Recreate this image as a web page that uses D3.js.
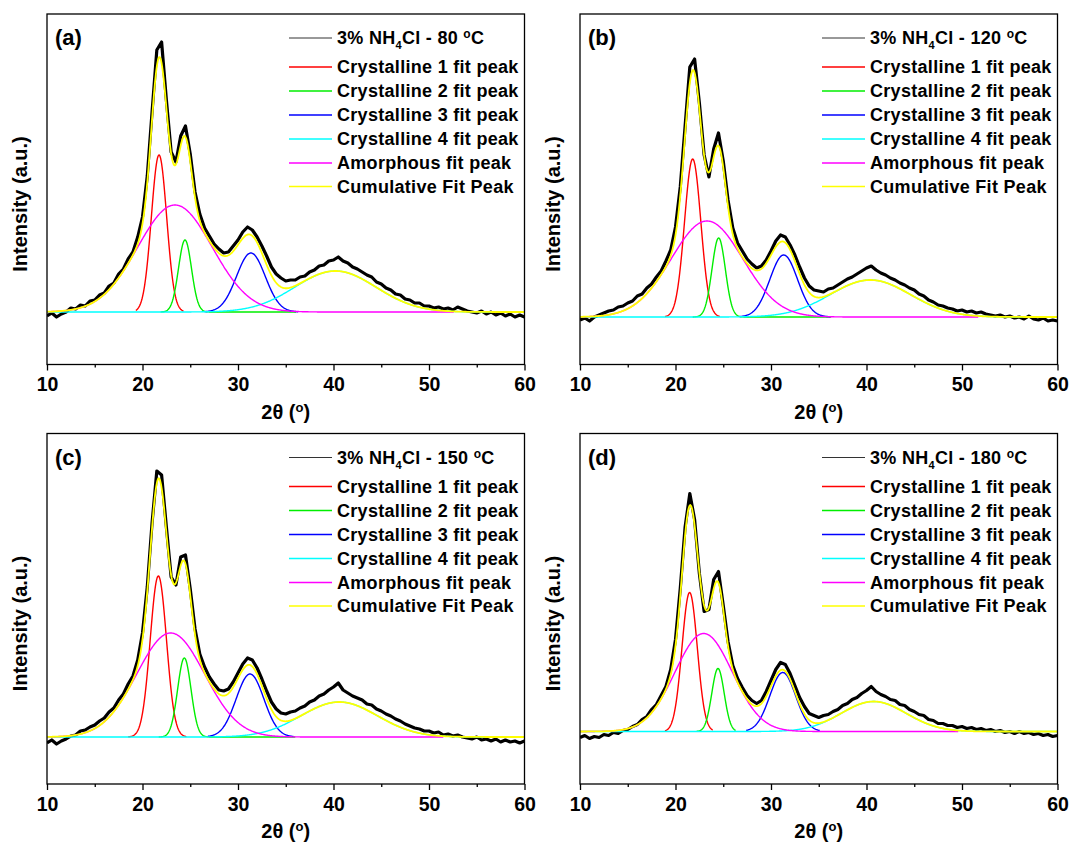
<!DOCTYPE html>
<html>
<head>
<meta charset="utf-8">
<script src="https://cdn.jsdelivr.net/npm/d3@7"></script>
<style>
  body { margin: 0; background: #fff; }
  svg { display: block; font-family: "Liberation Sans", Arial, sans-serif; font-weight: bold; }
</style>
</head>
<body>
<svg id="chart" width="1070" height="851"></svg>
<script>
// 2theta steps of the scans (deg)
const angles = d3.range(10, 60.001, 0.5);

const intensityA = [
  -4, -1, -5, -2, 0, 4, 3, 7, 6, 11,
  12, 17, 19, 26, 29, 38, 43, 53, 60, 75,
  95, 136, 200, 262, 270, 212, 160, 150, 176, 186,
  158, 120, 98, 84, 76, 68, 63, 59, 60, 66,
  72, 80, 85, 82, 75, 66, 56, 45, 38, 34,
  31, 32, 32, 35, 36, 40, 42, 46, 47, 51,
  52, 55, 51, 49, 45, 43, 40, 37, 35, 30,
  28, 24, 22, 18, 17, 13, 12, 9, 9, 6,
  6, 4, 5, 3, 4, 2, 5, 3, 1, 0,
  -1, 1, -2, 0, -3, -1, -4, -2, -5, -3, -5
];
const intensityB = [
  -3, -1, -4, 0, 2, 4, 6, 7, 10, 11,
  14, 16, 21, 23, 29, 33, 40, 46, 56, 67,
  90, 130, 190, 250, 258, 214, 162, 140, 168, 184,
  156, 117, 89, 74, 66, 58, 53, 49, 51, 57,
  66, 76, 82, 80, 72, 62, 50, 39, 31, 27,
  26, 25, 28, 29, 32, 35, 38, 40, 43, 46,
  49, 51, 47, 44, 42, 39, 37, 34, 32, 29,
  27, 23, 21, 17, 15, 12, 11, 9, 8, 6,
  7, 5, 6, 4, 5, 3, 2, 1, 2, 0,
  1, -1, 0, -2, 1, -2, -3, -1, -4, -3, -4
];
const intensityC = [
  -6, -3, -7, -4, -2, 1, 2, 6, 7, 10,
  12, 16, 19, 25, 29, 37, 43, 53, 61, 77,
  104, 150, 214, 266, 262, 210, 160, 152, 180, 182,
  148, 108, 83, 70, 60, 53, 47, 46, 48, 55,
  64, 73, 79, 77, 69, 58, 46, 35, 28, 24,
  23, 25, 26, 29, 31, 35, 37, 41, 43, 47,
  50, 54, 47, 44, 41, 39, 37, 33, 32, 28,
  26, 23, 21, 18, 16, 13, 11, 9, 8, 6,
  6, 4, 5, 2, 3, 1, 2, 0, -1, -2,
  0, -3, -2, -4, -2, -5, -3, -5, -4, -6, -4
];
const intensityD = [
  -6, -4, -7, -5, -6, -3, -4, -1, -2, 1,
  2, 5, 7, 12, 15, 22, 27, 36, 45, 62,
  92, 143, 204, 238, 212, 158, 120, 122, 152, 160,
  126, 90, 66, 53, 44, 36, 31, 28, 31, 40,
  51, 62, 69, 67, 58, 46, 34, 25, 18, 16,
  14, 16, 17, 20, 22, 26, 28, 32, 34, 38,
  41, 45, 40, 37, 35, 32, 31, 27, 26, 22,
  20, 17, 16, 12, 11, 8, 8, 6, 6, 4,
  5, 3, 4, 2, 3, 1, 2, 0, 1, -1,
  0, -2, 0, -2, -1, -3, -2, -4, -3, -5, -4
];

// gaussian fit peaks, order: crystalline 1..4, amorphous
const centerA = [21.73, 24.45, 31.35, 40.2, 23.4];
const heightA = [157, 72, 59, 41, 107];
const sigmaA  = [0.8, 0.68, 1.5, 4.25, 3.9];
const fromA   = [19.3, 21.9, 26.5, 10, 10];
const toA     = [24.3, 36.1, 36.3, 60, 52.6];

const centerB = [21.8, 24.52, 31.33, 40.4, 23.3];
const heightB = [158, 79, 62, 37, 96];
const sigmaB  = [0.85, 0.7, 1.45, 4.2, 3.75];
const fromB   = [18.9, 21.8, 26.7, 10, 10];
const toB     = [24.7, 36.3, 36.2, 60, 51.7];

const centerC = [21.66, 24.38, 31.26, 40.6, 22.95];
const heightC = [161, 79, 63, 35, 104];
const sigmaC  = [0.85, 0.7, 1.45, 4.0, 3.55];
const fromC   = [18.5, 21.7, 26.85, 10, 10];
const toC     = [24.6, 36, 35.8, 60, 51.5];

const centerD = [21.48, 24.45, 31.23, 40.75, 22.95];
const heightD = [139, 63, 59, 30, 98];
const sigmaD  = [0.8, 0.65, 1.35, 3.4, 3.0];
const fromD   = [18.9, 22.2, 27.4, 10, 10];
const toD     = [23.9, 26.3, 35.1, 60, 49.6];

const panelTags = ["(a)", "(b)", "(c)", "(d)"];
const temperatures = ["80", "120", "150", "180"];
const peakLabels = ["Crystalline 1 fit peak", "Crystalline 2 fit peak", "Crystalline 3 fit peak",
                    "Crystalline 4 fit peak", "Amorphous fit peak"];
const peakColors = ["#ff0000", "#00ee00", "#0000ff", "#00ffff", "#ff00ff"];
const yLow  = [-52.5, -47.5, -47, -52.5];
const yHigh = [298, 303, 303.5, 298];
const xTicks = [10, 20, 30, 40, 50, 60];
const xMinor = [15, 25, 35, 45, 55];

const panels = [
  {intensity: intensityA, center: centerA, height: heightA, sigma: sigmaA, from: fromA, to: toA},
  {intensity: intensityB, center: centerB, height: heightB, sigma: sigmaB, from: fromB, to: toB},
  {intensity: intensityC, center: centerC, height: heightC, sigma: sigmaC, from: fromC, to: toC},
  {intensity: intensityD, center: centerD, height: heightD, sigma: sigmaD, from: fromD, to: toD}
];

const svg = d3.select("#chart");
const pw = 477.5, ph = 350.5;
const origins = [[47, 14], [580, 14], [47, 433.5], [580, 433.5]];
const grid = d3.range(10, 60.0001, 0.05);

panels.forEach((p, i) => {
  const g = svg.append("g").attr("transform", `translate(${origins[i][0]},${origins[i][1]})`);
  const x = d3.scaleLinear().domain([10, 60]).range([0, pw]);
  const y = d3.scaleLinear().domain([yLow[i], yHigh[i]]).range([ph, 0]);
  const line = d3.line().x(d => x(d[0])).y(d => y(d[1]));

  g.append("clipPath").attr("id", "clip" + i)
    .append("rect").attr("width", pw).attr("height", ph);
  const plot = g.append("g").attr("clip-path", `url(#clip${i})`);

  const gauss = (k, t) => p.height[k] * Math.exp(-((t - p.center[k]) ** 2) / (2 * p.sigma[k] ** 2));

  // raw scan
  plot.append("path")
    .datum(angles.map((a, j) => [a, p.intensity[j]]))
    .attr("d", line)
    .attr("fill", "none")
    .attr("stroke", "#000")
    .attr("stroke-width", 3.2)
    .attr("stroke-linejoin", "round");

  // fit components
  p.center.forEach((c, k) => {
    const pts = grid.filter(t => t >= p.from[k] && t <= p.to[k]).map(t => [t, gauss(k, t)]);
    plot.append("path")
      .datum(pts)
      .attr("d", line)
      .attr("fill", "none")
      .attr("stroke", peakColors[k])
      .attr("stroke-width", 1.4);
  });

  // cumulative fit
  plot.append("path")
    .datum(grid.map(t => [t, d3.sum(p.center, (c, k) => gauss(k, t))]))
    .attr("d", line)
    .attr("fill", "none")
    .attr("stroke", "#ffff00")
    .attr("stroke-width", 1.8);

  // frame
  g.append("rect")
    .attr("width", pw).attr("height", ph)
    .attr("fill", "none").attr("stroke", "#000").attr("stroke-width", 1.3);

  const xAxis = g.append("g")
    .attr("transform", `translate(0,${ph})`)
    .call(d3.axisBottom(x).tickValues(xTicks).tickSize(6).tickPadding(7))
    .call(a => a.select(".domain").remove());
  xAxis.selectAll("text").attr("font-size", 19.5).attr("font-family", "Liberation Sans, Arial, sans-serif")
    .attr("font-weight", "bold").attr("fill", "#000");
  xAxis.selectAll("line").attr("stroke-width", 1.3);

  g.append("g")
    .attr("transform", `translate(0,${ph})`)
    .call(d3.axisBottom(x).tickValues(xMinor).tickSize(3).tickFormat(""))
    .call(a => a.select(".domain").remove())
    .selectAll("line").attr("stroke-width", 1.3);

  // axis titles
  const xt = g.append("text")
    .attr("x", pw / 2).attr("y", ph + 54)
    .attr("text-anchor", "middle").attr("font-size", 20);
  xt.append("tspan").text("2θ (");
  xt.append("tspan").attr("font-size", 13).attr("dy", -7).text("o");
  xt.append("tspan").attr("dy", 7).text(")");

  g.append("text")
    .attr("transform", "translate(-27,190) rotate(-90)")
    .attr("text-anchor", "middle")
    .attr("dy", "0.35em")
    .attr("font-size", 20)
    .text("Intensity (a.u.)");

  // panel tag
  g.append("text").attr("x", 8).attr("y", 31).attr("font-size", 22).text(panelTags[i]);

  // legend
  const rowY = [24, 53, 77, 101, 125, 149, 172.5];
  const lg = g.append("g").attr("font-size", 18).attr("letter-spacing", 0.3);
  lg.append("line").attr("x1", 242).attr("x2", 285).attr("y1", rowY[0]).attr("y2", rowY[0])
    .attr("stroke", "#333").attr("stroke-width", 1);
  const t0 = lg.append("text").attr("x", 290).attr("y", rowY[0]).attr("dy", "0.35em");
  t0.append("tspan").text("3% NH");
  t0.append("tspan").attr("font-size", 11).attr("dy", 5).text("4");
  t0.append("tspan").attr("dy", -5).text("Cl - " + temperatures[i] + " ");
  t0.append("tspan").attr("font-size", 12).attr("dy", -6).text("o");
  t0.append("tspan").attr("dy", 6).text("C");

  const labels = peakLabels.concat(["Cumulative Fit Peak"]);
  const colors = peakColors.concat(["#ffff00"]);
  labels.forEach((lab, k) => {
    const yy = rowY[k + 1];
    lg.append("line").attr("x1", 242).attr("x2", 285).attr("y1", yy).attr("y2", yy)
      .attr("stroke", colors[k]).attr("stroke-width", 1.6);
    lg.append("text").attr("x", 290).attr("y", yy).attr("dy", "0.35em").text(lab);
  });
});
</script>
</body>
</html>
